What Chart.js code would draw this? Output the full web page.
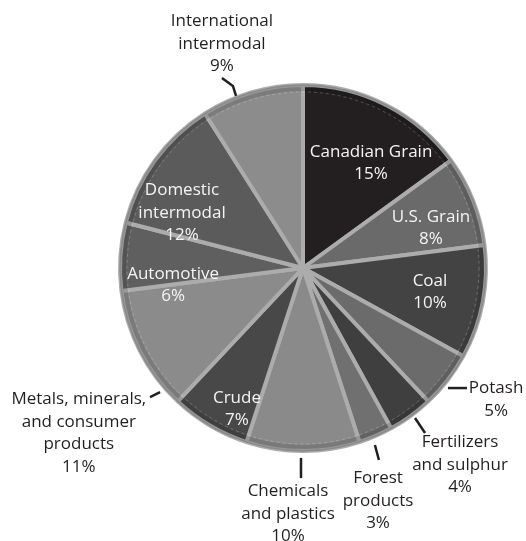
<!DOCTYPE html>
<html>
<head>
<meta charset="utf-8">
<script src="https://cdn.jsdelivr.net/npm/chart.js@4/dist/chart.umd.min.js"></script>
<style>
  html, body { margin: 0; padding: 0; background: #fff; }
  #wrap { width: 526px; height: 541px; }
</style>
</head>
<body>
<div id="wrap"><canvas id="pieChart" width="526" height="541"></canvas></div>
<script>
// categories, clockwise from 12 o'clock
const categories = [
    'Canadian Grain', 'U.S. Grain', 'Coal', 'Potash', 'Fertilizers and sulphur',
    'Forest products', 'Chemicals and plastics', 'Crude',
    'Metals, minerals, and consumer products', 'Automotive',
    'Domestic intermodal', 'International intermodal'
];
const shares = [15, 8, 10, 5, 4, 3, 10, 7, 11, 6, 12, 9];

// how each name is broken over lines on the chart
const labelLines = [
    ['Canadian Grain'], ['U.S. Grain'], ['Coal'], ['Potash'], ['Fertilizers', 'and sulphur'],
    ['Forest', 'products'], ['Chemicals', 'and plastics'], ['Crude'],
    ['Metals, minerals,', 'and consumer', 'products'], ['Automotive'],
    ['Domestic', 'intermodal'], ['International', 'intermodal']
];

const sliceColors = [
    '#231f20', '#6a6a6a', '#434343', '#6b6b6b', '#3f3f3f', '#707070',
    '#8a8a8a', '#484848', '#8b8b8b', '#5f5f5f', '#5b5b5b', '#8c8c8c'
];

// label placement, in units of the pie radius from its centre
// inside: text centre only; outside: text centre + leader points
const labelLayout = [
    { inside: true, x: 0.372, y: -0.574 },
    { inside: true, x: 0.699, y: -0.219 },
    { inside: true, x: 0.694, y: 0.131 },
    { x: 1.055, y: 0.719, leader: [[0.792, 0.656], [0.896, 0.656]] },
    { x: 0.858, y: 1.075, leader: [[0.612, 0.820], [0.667, 0.902]] },
    { x: 0.410, y: 1.273, leader: [[0.393, 0.967], [0.415, 1.049]] },
    { x: -0.082, y: 1.344, leader: [[-0.011, 1.038], [-0.011, 1.148]] },
    { inside: true, x: -0.361, y: 0.770 },
    { x: -1.225, y: 0.902, leader: [[-0.781, 0.678], [-0.836, 0.705]] },
    { inside: true, x: -0.710, y: 0.093 },
    { inside: true, x: -0.661, y: -0.301 },
    { x: -0.443, y: -1.224, leader: [[-0.366, -0.940], [-0.383, -0.995], [-0.443, -1.038]] }
];

const labelPlugin = {
    id: 'pieLabels',
    afterDatasetsDraw(chart) {
        const meta = chart.getDatasetMeta(0);
        const arc0 = meta.data[0];
        const cx = arc0.x, cy = arc0.y, R = arc0.outerRadius;
        const ctx = chart.ctx;
        ctx.save();

        // darker rim and a thin dashed highlight, like the bevelled original
        ctx.beginPath();
        ctx.arc(cx, cy, R - 3, 0, Math.PI * 2);
        ctx.strokeStyle = 'rgba(0,0,0,0.12)';
        ctx.lineWidth = 6;
        ctx.stroke();
        ctx.beginPath();
        ctx.arc(cx, cy, R - 7, 0, Math.PI * 2);
        ctx.setLineDash([3, 3]);
        ctx.strokeStyle = 'rgba(255,255,255,0.22)';
        ctx.lineWidth = 1;
        ctx.stroke();
        ctx.setLineDash([]);
        ctx.beginPath();
        ctx.arc(cx, cy, R, 0, Math.PI * 2);
        ctx.strokeStyle = '#8a8a8a';
        ctx.lineWidth = 1.5;
        ctx.stroke();

        const lineH = 22.5;
        ctx.font = '17px "Open Sans", sans-serif';
        ctx.textAlign = 'center';
        ctx.textBaseline = 'middle';

        labelLayout.forEach((lay, i) => {
            const lines = labelLines[i].concat([shares[i] + '%']);
            if (!lay.inside) {
                ctx.beginPath();
                lay.leader.forEach((p, k) => {
                    const px = cx + p[0] * R, py = cy + p[1] * R;
                    if (k === 0) ctx.moveTo(px, py); else ctx.lineTo(px, py);
                });
                ctx.strokeStyle = '#231f20';
                ctx.lineWidth = 2.5;
                ctx.lineJoin = 'round';
                ctx.stroke();
            }
            ctx.fillStyle = lay.inside ? '#f4f4f4' : '#231f20';
            const tx = cx + lay.x * R;
            const ty = cy + lay.y * R - (lines.length - 1) * lineH / 2;
            lines.forEach((t, k) => ctx.fillText(t, tx, ty + k * lineH));
        });
        ctx.restore();
    }
};

const pieCtx = document.getElementById('pieChart').getContext('2d');
new Chart(pieCtx, {
    type: 'pie',
    data: {
        labels: categories,
        datasets: [{
            data: shares,
            backgroundColor: sliceColors,
            borderColor: '#acacac',
            borderWidth: 4
        }]
    },
    options: {
        responsive: false,
        animation: false,
        radius: 183,
        layout: { padding: { left: 80, right: 0, top: 0, bottom: 5 } },
        plugins: {
            legend: { display: false },
            tooltip: { enabled: false }
        }
    },
    plugins: [labelPlugin]
});
</script>
</body>
</html>
